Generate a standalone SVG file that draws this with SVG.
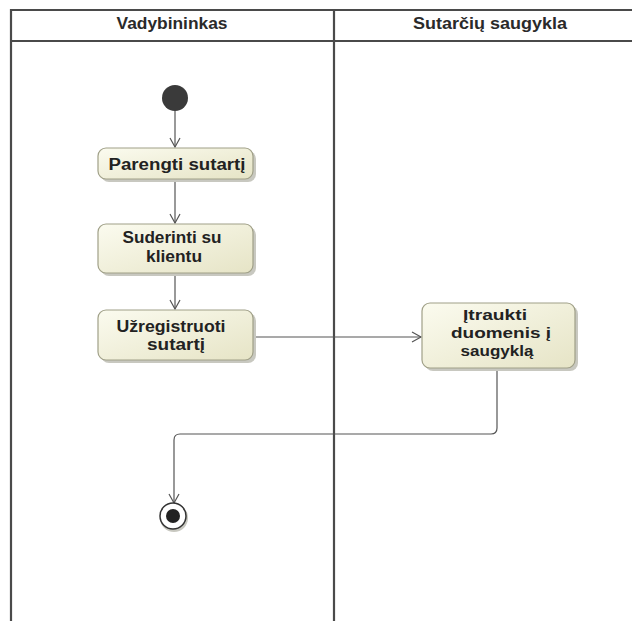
<svg xmlns="http://www.w3.org/2000/svg" width="632" height="621" viewBox="0 0 632 621">
  <defs>
    <linearGradient id="actFill" x1="0" y1="0" x2="1" y2="1">
      <stop offset="0" stop-color="#fbfbef"/>
      <stop offset="1" stop-color="#e6e4c6"/>
    </linearGradient>
    <marker id="open" markerWidth="12" markerHeight="12" refX="10" refY="6" orient="auto" markerUnits="userSpaceOnUse">
      <path d="M1,1 L10,6 L1,11" fill="none" stroke="#555" stroke-width="1.2"/>
    </marker>
  </defs>
  <style>
    .lane { fill: none; stroke: #4a4a4a; stroke-width: 2.2; }
    .hdr { font-family: "Liberation Sans", Arial, sans-serif; font-size: 16px; font-weight: bold; fill: #2a2a2a; text-anchor: middle; }
    .act rect.body { fill: url(#actFill); stroke: #a0a088; stroke-width: 1.2; }
    .act rect.shadow { fill: #c8c8c0; stroke: none; }
    .act text { font-family: "Liberation Sans", Arial, sans-serif; font-size: 16px; font-weight: bold; fill: #222; text-anchor: middle; }
    .act text.tight { font-size: 15px; }
    .flow { fill: none; stroke: #555; stroke-width: 1.2; }
  </style>
  <rect width="632" height="621" fill="#ffffff"/>

  <!-- swimlanes -->
  <g id="lanes">
    <line class="lane" x1="11" y1="10" x2="632" y2="10"/>
    <line class="lane" x1="11" y1="41" x2="632" y2="41"/>
    <line class="lane" x1="11" y1="9" x2="11" y2="621"/>
    <line class="lane" x1="334" y1="9" x2="334" y2="621"/>
    <text class="hdr" x="172" y="29" textLength="111" lengthAdjust="spacingAndGlyphs">Vadybininkas</text>
    <text class="hdr" x="490" y="29" textLength="154" lengthAdjust="spacingAndGlyphs">Sutarčių saugykla</text>
  </g>

  <!-- connectors -->
  <g id="connectors">
    <line class="flow" x1="175" y1="111" x2="175" y2="147" marker-end="url(#open)"/>
    <line class="flow" x1="175" y1="180" x2="175" y2="223" marker-end="url(#open)"/>
    <line class="flow" x1="175" y1="274" x2="175" y2="309" marker-end="url(#open)"/>
    <line class="flow" x1="253" y1="337" x2="421" y2="337" marker-end="url(#open)"/>
    <path class="flow" d="M497,369 V428 Q497,434 491,434 H180 Q174,434 174,440 V503" marker-end="url(#open)"/>
  </g>

  <g id="start">
    <circle cx="175" cy="98" r="13" fill="#3a3a3a"/>
  </g>

  <g id="parengti" class="act">
    <rect class="shadow" x="101" y="151" width="155" height="31" rx="8"/>
    <rect class="body" x="98" y="148" width="155" height="31" rx="8"/>
    <text x="177" y="170" textLength="137" lengthAdjust="spacingAndGlyphs">Parengti sutartį</text>
  </g>

  <g id="suderinti" class="act">
    <rect class="shadow" x="101" y="227" width="155" height="49" rx="8"/>
    <rect class="body" x="98" y="224" width="155" height="49" rx="8"/>
    <text x="172" y="243" textLength="99" lengthAdjust="spacingAndGlyphs">Suderinti su</text>
    <text x="174" y="262" textLength="56" lengthAdjust="spacingAndGlyphs">klientu</text>
  </g>

  <g id="uzregistruoti" class="act">
    <rect class="shadow" x="101" y="313" width="155" height="50" rx="8"/>
    <rect class="body" x="98" y="310" width="155" height="50" rx="8"/>
    <text x="171" y="332" textLength="109" lengthAdjust="spacingAndGlyphs">Užregistruoti</text>
    <text x="176" y="350" textLength="58" lengthAdjust="spacingAndGlyphs">sutartį</text>
  </g>

  <g id="itraukti" class="act">
    <rect class="shadow" x="425" y="306" width="153" height="65" rx="8"/>
    <rect class="body" x="422" y="303" width="153" height="65" rx="8"/>
    <text class="tight" x="495" y="320" textLength="64" lengthAdjust="spacingAndGlyphs">Įtraukti</text>
    <text class="tight" x="501" y="338" textLength="100" lengthAdjust="spacingAndGlyphs">duomenis į</text>
    <text class="tight" x="497" y="356" textLength="73" lengthAdjust="spacingAndGlyphs">saugyklą</text>
  </g>

  <g id="end">
    <circle cx="174" cy="518" r="14" fill="#c8c8c0"/>
    <circle cx="173" cy="516" r="13" fill="#ffffff" stroke="#333" stroke-width="1.5"/>
    <circle cx="173" cy="516" r="7" fill="#222"/>
  </g>
</svg>
